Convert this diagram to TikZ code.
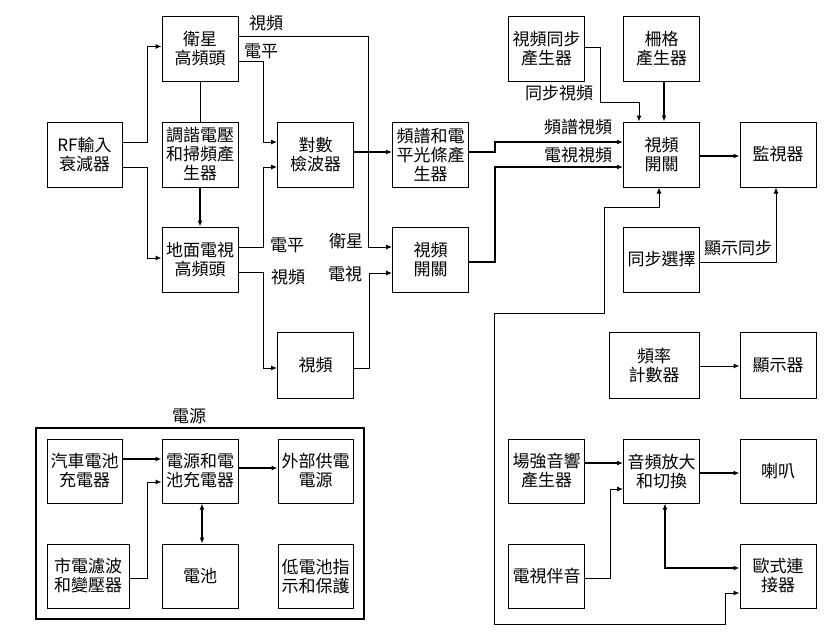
\documentclass[tikz,border=0pt]{standalone}
\usepackage{fontspec}
\setmainfont{Noto Sans CJK TC}
\usetikzlibrary{arrows.meta}

\tikzset{
  box/.style={draw, line width=1pt, minimum width=76pt, minimum height=65pt,
    inner sep=0pt, align=center, font=\fontsize{17}{19}\selectfont},
  lbl/.style={inner sep=0pt, font=\fontsize{17}{19}\selectfont},
  arr/.style={line width=1pt, -{Latex[length=6pt,width=5pt]}},
  tarr/.style={line width=2pt, -{Latex[length=6pt,width=5pt]}},
  darr/.style={line width=2pt, {Latex[length=6pt,width=5pt]}-{Latex[length=6pt,width=5pt]}},
  sarr/.style={line width=1pt, {Latex[length=6pt,width=5pt]}-{Latex[length=6pt,width=5pt]}}
}

\begin{document}
\begin{tikzpicture}[x=1pt,y=-1pt]
        \useasboundingbox[fill=white] (0,0) rectangle (836,640);

        % RF front end
        \node[box, minimum width=75pt] (rf) at (84.5,154.5) {RF輸入\\衰減器};
        \node[box] (sat) at (200,48.5) {衛星\\高頻頭};
        \node[box] (tune) at (200,154.5) {調諧電壓\\和掃頻產\\生器};
        \node[box] (ter) at (200,259.5) {地面電視\\高頻頭};
        \node[box] (log) at (315.5,154.5) {對數\\檢波器};
        \node[box] (spec) at (430.5,154.5) {頻譜和電\\平光條產\\生器};
        \node[box] (vsw1) at (430.5,259.5) {視頻\\開關};
        \node[box, minimum height=66pt] (vid) at (315.5,365) {視頻};

        % Video switching and display
        \node[box] (vsync) at (546.5,48.5) {視頻同步\\產生器};
        \node[box] (grid) at (661.5,48.5) {柵格\\產生器};
        \node[box] (vsw2) at (661.5,154.5) {視頻\\開關};
        \node[box] (mon) at (778,154.5) {監視器};
        \node[box] (syncsel) at (661.5,259.5) {同步選擇};
        \node[box, minimum width=90pt, minimum height=66pt] (freq) at (654,365) {頻率\\計數器};
        \node[box, minimum height=66pt] (disp) at (778,365) {顯示器};

        % Audio
        \node[box, minimum height=64pt] (field) at (546.5,471) {場強音響\\產生器};
        \node[box, minimum height=64pt] (amp) at (661.5,471) {音頻放大\\和切換};
        \node[box, minimum height=64pt] (spk) at (778,471) {喇叭};
        \node[box, minimum height=64pt] (tvaud) at (546.5,576) {電視伴音};
        \node[box, minimum height=64pt] (scart) at (778,576) {歐式連\\接器};

        % Power supply
        \draw[line width=2pt] (36,428) rectangle (364,619);
        \node[lbl] (pwr) at (189,416) {電源};
        \node[box, minimum height=64pt, minimum width=75pt] (car) at (84.5,471) {汽車電池\\充電器};
        \node[box, minimum height=64pt] (psu) at (200,471) {電源和電\\池充電器};
        \node[box, minimum height=64pt, minimum width=75pt] (ext) at (315.5,471) {外部供電\\電源};
        \node[box, minimum height=64pt, minimum width=82pt] (mains) at (88,576) {市電濾波\\和變壓器};
        \node[box, minimum height=64pt] (bat) at (200,576) {電池};
        \node[box, minimum height=64pt, minimum width=75pt] (low) at (315.5,576) {低電池指\\示和保護};

        % Signal labels
        \node[lbl] (l1) at (266,23) {視頻};
        \node[lbl] (l2) at (261,51) {電平};
        \node[lbl] (l3) at (287,245) {電平};
        \node[lbl] (l4) at (288,277) {視頻};
        \node[lbl] (l5) at (346,241) {衛星};
        \node[lbl] (l6) at (345,274) {電視};
        \node[lbl] (l7) at (559,93) {同步視頻};
        \node[lbl] (l8) at (578,127) {頻譜視頻};
        \node[lbl] (l9) at (578,155) {電視視頻};
        \node[lbl] (l10) at (738,248) {顯示同步};

        % RF connections
        \draw[arr] ([yshift=12pt]rf.east) -- ++(25,0) |- ([yshift=2pt]sat.west);
        \draw[arr] ([yshift=-13pt]rf.east) -- ++(25,0) |- ([yshift=1.5pt]ter.west);
        \draw[line width=1pt] (sat.south) -- (tune.north);
        \draw[tarr] (tune.south) -- (ter.north);
        \draw[arr] ([yshift=-12.5pt]sat.east) -- ++(25,0) |- ([yshift=12.5pt]log.west);
        \draw[arr] ([yshift=12.5pt]ter.east) -- ++(25,0) |- ([yshift=-12.5pt]log.west);
        \draw[arr] ([yshift=12.5pt]sat.east) -- ++(130,0) |- ([yshift=12.5pt]vsw1.west);
        \draw[arr] ([yshift=-12.5pt]ter.east) -- ++(25,0) |- ([yshift=-3pt]vid.west);
        \draw[arr] ([yshift=-3pt]vid.east) -- ++(15,0) |- ([yshift=-13.5pt]vsw1.west);
        \draw[tarr] ([yshift=2.5pt]log.east) -- ([yshift=2.5pt]spec.west);

        % Video connections
        \draw[tarr] ([yshift=2.5pt]spec.east) -- ++(26,0) |- ([yshift=12.5pt]vsw2.west);
        \draw[tarr] ([yshift=-2.5pt]vsw1.east) -- ++(26,0) |- ([yshift=-12.5pt]vsw2.west);
        \draw[arr] ([yshift=1.5pt]vsync.east) -- ++(15,0) -- ++(0,55) -| ([xshift=-22.5pt]vsw2.north);
        \draw[tarr] ([xshift=2.5pt]grid.south) -- ([xshift=2.5pt]vsw2.north);
        \draw[tarr] ([yshift=-1.5pt]vsw2.east) -- ([yshift=-1.5pt]mon.west);
        \draw[arr] ([yshift=-2.5pt]syncsel.east) -| ([xshift=-2pt]mon.south);
        \draw[sarr] ([xshift=-2.5pt]vsw2.south) -- ++(0,20) -- ++(-55,0) -- ++(0,106)
          -- ++(-110,0) -- ++(0,311) -- ++(231,0) |- ([yshift=-17pt]scart.west);
        \draw[arr] ([yshift=-1pt]freq.east) -- ([yshift=-1pt]disp.west);

        % Audio connections
        \draw[tarr] ([yshift=8pt]field.east) -- ([yshift=8pt]amp.west);
        \draw[arr] ([yshift=-2pt]tvaud.east) -- ++(25,0) |- ([yshift=-18pt]amp.west);
        \draw[tarr] ([yshift=-2pt]amp.east) -- ([yshift=-2pt]spk.west);
        \draw[darr] ([xshift=3.5pt]amp.south) |- ([yshift=8pt]scart.west);

        % Power connections
        \draw[tarr] ([yshift=12pt]car.east) -- ([yshift=12pt]psu.west);
        \draw[arr] ([yshift=-2pt]mains.east) -- ++(18,0) |- ([yshift=-11pt]psu.west);
        \draw[tarr] ([yshift=3pt]psu.east) -- ([yshift=3pt]ext.west);
        \draw[darr] ([xshift=2pt]psu.south) -- ([xshift=2pt]bat.north);
    \end{tikzpicture}
\end{document}
